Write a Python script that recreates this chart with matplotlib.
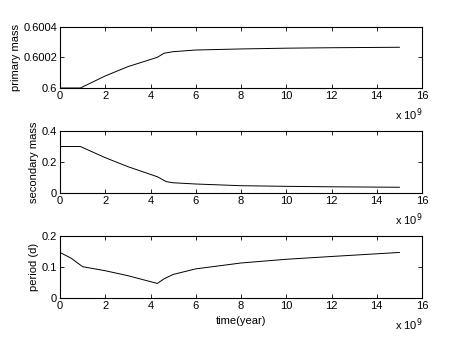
import matplotlib
matplotlib.use('Agg')
import matplotlib.pyplot as plt

plt.rcParams['font.family'] = ['Liberation Sans', 'DejaVu Sans']

# time in units of 1e9 years
t_primary = [0, 0.9, 2.0, 3.0, 4.3, 4.6, 5.0, 6.0, 8.0, 10.0, 12.0, 15.0]
primary_mass = [0.6, 0.6, 0.600079, 0.600140, 0.600201, 0.600228, 0.600238,
                0.600249, 0.600256, 0.600261, 0.600264, 0.600267]

t_secondary = [0, 0.9, 2.0, 3.0, 4.3, 4.7, 5.0, 6.0, 8.0, 10.0, 12.0, 15.0]
secondary_mass = [0.3, 0.3, 0.228, 0.17, 0.105, 0.073, 0.066, 0.058, 0.047,
                  0.043, 0.040, 0.037]

t_period = [0, 0.5, 1.0, 2.0, 3.0, 4.3, 4.6, 5.0, 6.0, 8.0, 10.0, 12.0, 15.0]
period = [0.147, 0.128, 0.101, 0.088, 0.072, 0.047, 0.062, 0.076, 0.094,
          0.113, 0.125, 0.134, 0.147]

xticks = [0, 2, 4, 6, 8, 10, 12, 14, 16]

fig = plt.figure(figsize=(4.66, 3.5), dpi=100)

panels = [
    (t_primary, primary_mass, 'primary mass', [0.6, 0.6002, 0.6004],
     ['0.6', '0.6002', '0.6004'], 0.7486, 0.1743),
    (t_secondary, secondary_mass, 'secondary mass', [0, 0.2, 0.4],
     ['0', '0.2', '0.4'], 0.4486, 0.177),
    (t_period, period, 'period (d)', [0, 0.1, 0.2],
     ['0', '0.1', '0.2'], 0.1486, 0.177),
]

for i, (x, y, lab, yt, ytl, bot, h) in enumerate(panels):
    ax = fig.add_axes([0.1288, bot, 0.7768, h])
    ax.plot(x, y, 'k-', linewidth=0.7)
    ax.set_xlim(0, 16)
    ax.set_ylim(yt[0], yt[-1])
    ax.set_xticks(xticks)
    ax.set_xticklabels([str(v) for v in xticks])
    ax.set_yticks(yt)
    ax.set_yticklabels(ytl)
    ax.tick_params(direction='in', top=True, right=True, length=3,
                   width=0.6, labelsize=8, pad=2)
    for s in ax.spines.values():
        s.set_linewidth(0.8)
    ax.set_ylabel(lab, fontsize=8, labelpad=2)
    ax.text(1.0, -0.3, r'x 10$^{9}$', transform=ax.transAxes,
            ha='right', va='top', fontsize=8)
    if i == 2:
        ax.set_xlabel('time(year)', fontsize=8, labelpad=4)

fig.savefig('out.png', dpi=100)
